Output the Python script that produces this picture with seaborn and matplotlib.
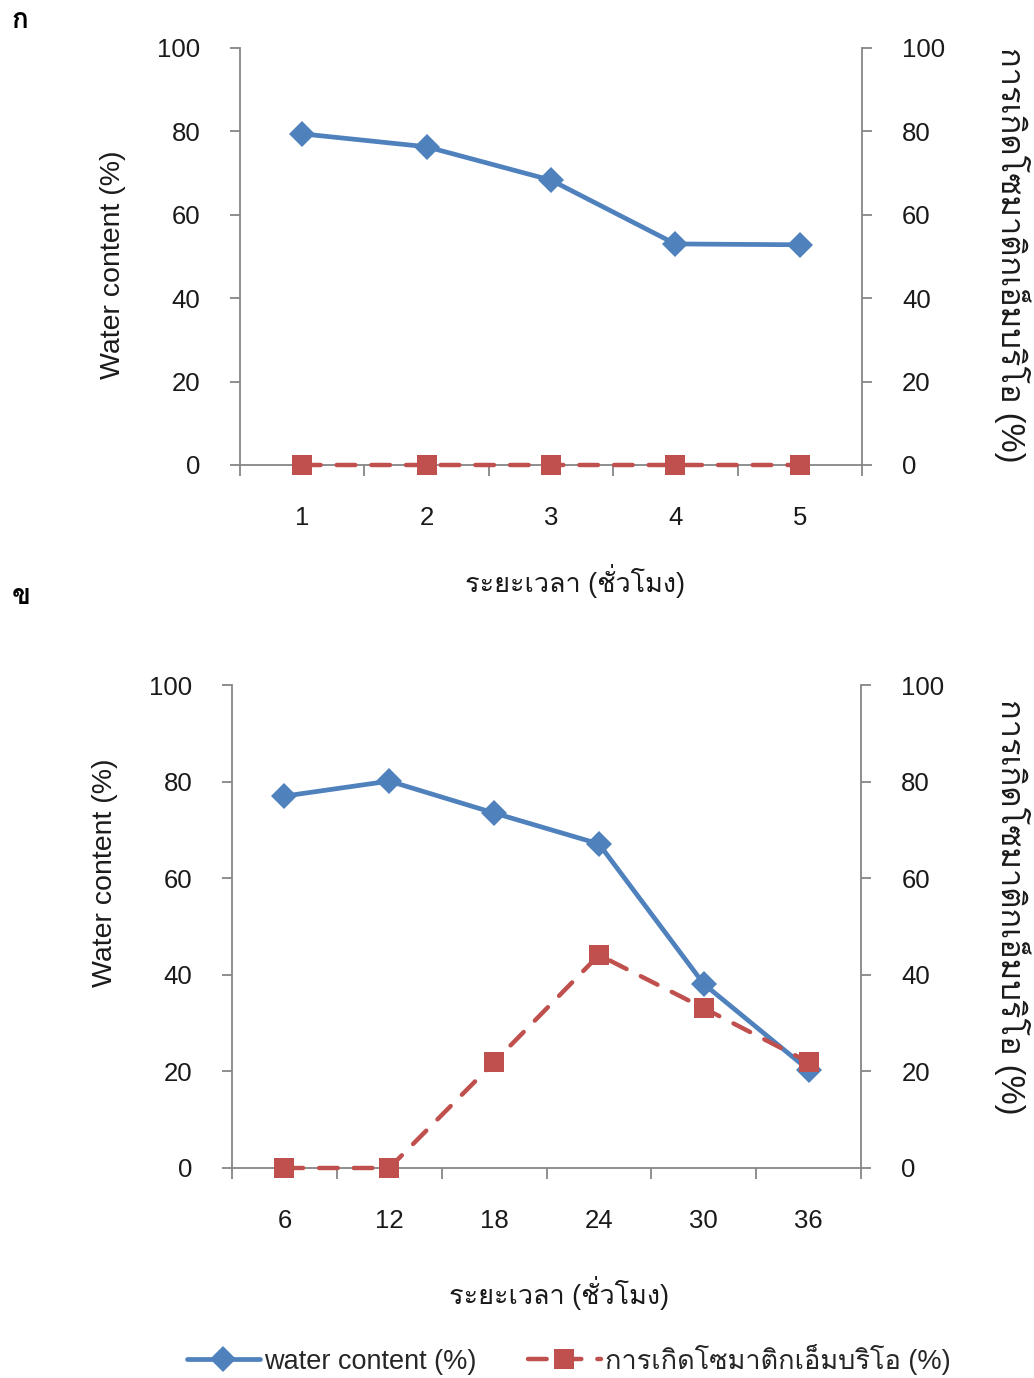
import matplotlib
matplotlib.use("Agg")
import matplotlib.pyplot as plt
import seaborn as sns
import pandas as pd
import numpy as np
from matplotlib import font_manager, ft2font
from matplotlib.ticker import FixedLocator, NullFormatter
from matplotlib.lines import Line2D

# ---------------- data ----------------
hours_a = ["1", "2", "3", "4", "5"]
water_a = [79.4, 76.3, 68.3, 53.0, 52.8]
embryo_a = [0, 0, 0, 0, 0]

hours_b = ["6", "12", "18", "24", "30", "36"]
water_b = [77.0, 80.1, 73.5, 67.1, 38.1, 20.3]
embryo_b = [0, 0, 21.9, 44.1, 33.1, 21.9]

y_ticks = [0, 20, 40, 60, 80, 100]

label_water = "water content (%)"
label_embryo = "การเกิดโซมาติกเอ็มบริโอ (%)"
xlabel_text = "ระยะเวลา (ชั่วโมง)"
ylabel_left = "Water content (%)"
panel_labels = ["ก", "ข"]

# ---------------- fonts ----------------
sns.set_theme(style="white")
thai_fonts = []
for f in font_manager.fontManager.ttflist:
    try:
        ft = ft2font.FT2Font(f.fname)
        if ord("ก") in ft.get_charmap():
            thai_fonts.append((f.name, f.weight, f.style))
    except Exception:
        pass
thai_name = None
for name, w, s in thai_fonts:
    if s == "normal" and (w in (400, "normal", "regular")):
        thai_name = name
        break
if thai_name is None and thai_fonts:
    thai_name = thai_fonts[0][0]
families = ["Liberation Sans"]
if thai_name:
    families.append(thai_name)
families.append("DejaVu Sans")
plt.rcParams["font.family"] = families

BLUE = "#4F81BD"
RED = "#C0504D"
GREY = "#868686"
TXT = "#1a1a1a"
TICK_FS = 18.5
LABEL_FS = 20.5
XLABEL_FS = 19.5
RLABEL_FS = 23.5
DASH = (0, (4.2, 3.6))

fig = plt.figure(figsize=(10.34, 13.78), dpi=100)
fig.patch.set_facecolor("white")

ax_a = fig.add_axes([0.2321, 0.6626, 0.6015, 0.3026])
ax_b = fig.add_axes([0.2244, 0.1524, 0.6083, 0.3505])


def draw_panel(ax, cats, water, embryo, xlab_xy, ylab_xy, rlab_xy):
    df = pd.DataFrame({"pos": np.arange(len(cats)), "water": water, "embryo": embryo})
    sns.lineplot(data=df, x="pos", y="water", ax=ax, color=BLUE, linewidth=3.4,
                 marker="D", markersize=13, markeredgewidth=0, clip_on=False, zorder=4)
    ax2 = ax.twinx()
    sns.lineplot(data=df, x="pos", y="embryo", ax=ax2, color=RED, linewidth=3.2,
                 linestyle=DASH, marker="s", markersize=14.5, dash_capstyle="round",
                 markeredgewidth=0, clip_on=False, zorder=3)
    n = len(cats)
    for a in (ax, ax2):
        a.set_xlim(-0.5, n - 0.5)
        a.set_ylim(0, 100)
        a.set_facecolor("none")
        for sp in a.spines.values():
            sp.set_visible(False)

    for a, side in ((ax, "left"), (ax, "bottom"), (ax2, "right")):
        a.spines[side].set_visible(True)
        a.spines[side].set_color(GREY)
        a.spines[side].set_linewidth(1.3)

    ax.set_yticks(y_ticks)
    ax.set_yticklabels([str(t) for t in y_ticks])
    ax2.set_yticks(y_ticks)
    ax2.set_yticklabels([str(t) for t in y_ticks])
    ax.tick_params(axis="y", which="major", direction="out", length=7, width=1.3,
                   color=GREY, labelsize=TICK_FS, labelcolor=TXT, pad=21.5, left=True)
    ax2.tick_params(axis="y", which="major", direction="out", length=7, width=1.3,
                    color=GREY, labelsize=TICK_FS, labelcolor=TXT, pad=22, right=True)

    ax.set_xticks(np.arange(n))
    ax.set_xticklabels(cats)
    ax.xaxis.set_minor_locator(FixedLocator(np.arange(n + 1) - 0.5))
    ax.xaxis.set_minor_formatter(NullFormatter())
    ax.tick_params(axis="x", which="major", length=0, labelsize=TICK_FS,
                   labelcolor=TXT, pad=29.5, bottom=True)
    ax.tick_params(axis="x", which="minor", direction="out", length=8, width=1.3,
                   color=GREY, bottom=True)
    ax2.tick_params(axis="x", which="both", bottom=False, labelbottom=False)

    ax.set_xlabel(xlabel_text, fontsize=XLABEL_FS, color=TXT, va="center", ha="center")
    ax.xaxis.set_label_coords(*xlab_xy)
    ax.set_ylabel(ylabel_left, fontsize=LABEL_FS, color=TXT, va="center", ha="center")
    ax.yaxis.set_label_coords(*ylab_xy)
    ax2.set_ylabel(label_embryo, fontsize=RLABEL_FS, color=TXT, rotation=270,
                   va="center", ha="center")
    ax2.yaxis.set_label_coords(*rlab_xy)
    ax.grid(False)
    ax2.grid(False)
    return ax2


draw_panel(ax_a, hours_a, water_a, embryo_a,
           xlab_xy=(0.539, -0.278), ylab_xy=(-0.204, 0.48), rlab_xy=(1.241, 0.504))
draw_panel(ax_b, hours_b, water_b, embryo_b,
           xlab_xy=(0.52, -0.259), ylab_xy=(-0.202, 0.611), rlab_xy=(1.24, 0.54))

fig.text(0.011, 0.985, panel_labels[0], fontsize=20, fontweight="bold", color="black",
         va="center", ha="left")
fig.text(0.011, 0.567, panel_labels[1], fontsize=20, fontweight="bold", color="black",
         va="center", ha="left")

handles = [
    Line2D([0], [0], color=BLUE, linewidth=3.4, marker="D", markersize=13,
           markeredgewidth=0),
    Line2D([0], [0], color=RED, linewidth=3.2, linestyle=DASH, marker="s",
           markersize=14.5, markeredgewidth=0, dash_capstyle="round"),
]
fig.legend(handles, [label_water, label_embryo], loc="center", ncol=2,
           bbox_to_anchor=(0.55, 0.0135), frameon=False, fontsize=19.5,
           handlelength=2.7, handletextpad=0.15, columnspacing=1.9)

fig.savefig("out.png", dpi=100, facecolor="white")
